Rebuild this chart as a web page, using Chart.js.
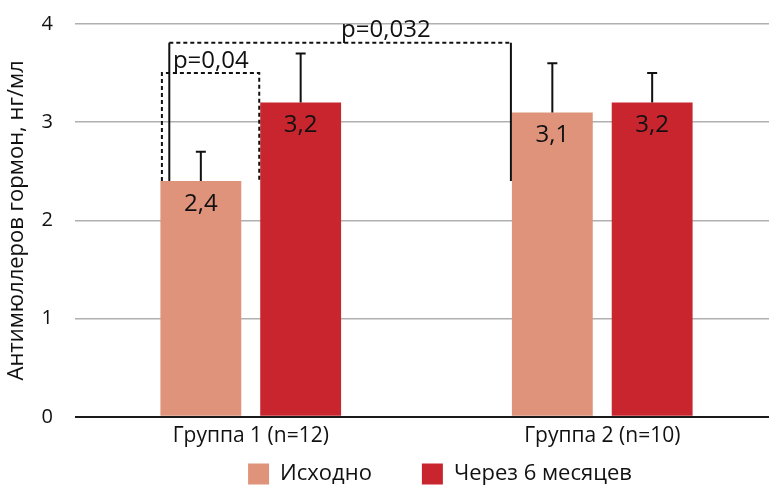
<!DOCTYPE html>
<html>
<head>
<meta charset="utf-8">
<script src="https://cdn.jsdelivr.net/npm/chart.js@4/dist/chart.umd.min.js"></script>
<style>
  html, body { margin: 0; padding: 0; background: #fff; overflow: hidden; }
  canvas { display: block; }
</style>
</head>
<body>
<canvas id="amh" width="878" height="538"></canvas>
<script>
// Groups and series
const categories = ['Группа 1 (n=12)', 'Группа 2 (n=10)'];
const seriesNames = ['Исходно', 'Через 6 месяцев'];
const baselineValues = [2.4, 3.1];
const sixMonthValues = [3.2, 3.2];
// upper error whiskers (added to the bar value)
const baselineErrors = [0.3, 0.5];
const sixMonthErrors = [0.5, 0.3];
const yTickValues = [0, 1, 2, 3, 4];
const axisTitle = 'Антимюллеров гормон, нг/мл';
// significance brackets: label, top level, bottom level, label baseline level
const pLabels = ['p=0,04', 'p=0,032'];
const bracketTops = [3.5, 3.81];
const bracketBottoms = [2.4, 2.4];
const pLabelLevels = [3.55, 3.87];

const FONT = '"Open Sans", sans-serif';
const INK = '#111';
const fmt = v => String(v).replace('.', ',');

// error bars, value labels and p-value brackets
const annotate = {
  id: 'annotate',
  afterDatasetsDraw(chart) {
    const { ctx } = chart;
    const y = chart.scales.y;
    const bar = (ds, i) => chart.getDatasetMeta(ds).data[i];
    ctx.save();

    [[0, baselineValues, baselineErrors], [1, sixMonthValues, sixMonthErrors]].forEach(([ds, vals, errs]) => {
      vals.forEach((v, i) => {
        const b = bar(ds, i);
        const y0 = y.getPixelForValue(v);
        const y1 = y.getPixelForValue(v + errs[i]);
        ctx.strokeStyle = INK;
        ctx.lineWidth = 2;
        ctx.setLineDash([]);
        ctx.beginPath();
        ctx.moveTo(b.x, y0);
        ctx.lineTo(b.x, y1);
        ctx.moveTo(b.x - 5, y1);
        ctx.lineTo(b.x + 5, y1);
        ctx.stroke();

        ctx.fillStyle = INK;
        ctx.font = '24px ' + FONT;
        ctx.textAlign = 'center';
        ctx.textBaseline = 'middle';
        ctx.fillText(fmt(v), b.x, y0 + 23);
      });
    });

    ctx.strokeStyle = INK;
    ctx.lineWidth = 2;

    // narrow bracket: both bars of group 1, dashed all round
    const a = bar(0, 0), c = bar(1, 0);
    const nl = a.x - a.width / 2 + 1.5, nr = c.x - c.width / 2 - 1;
    const nt = y.getPixelForValue(bracketTops[0]), nb = y.getPixelForValue(bracketBottoms[0]);
    ctx.setLineDash([4, 3]);
    ctx.beginPath();
    ctx.moveTo(nl, nb);
    ctx.lineTo(nl, nt);
    ctx.lineTo(nr, nt);
    ctx.lineTo(nr, nb);
    ctx.stroke();

    // wide bracket: group 1 baseline vs group 2 baseline
    const d = bar(0, 1);
    const wl = a.x - a.width * 0.39, wr = d.x - d.width / 2 - 1;
    const wt = y.getPixelForValue(bracketTops[1]), wb = y.getPixelForValue(bracketBottoms[1]);
    ctx.setLineDash([4, 3]);
    ctx.beginPath();
    ctx.moveTo(wl, wt);
    ctx.lineTo(wr, wt);
    ctx.stroke();
    ctx.setLineDash([]);
    ctx.beginPath();
    ctx.moveTo(wl, wb);
    ctx.lineTo(wl, wt);
    ctx.moveTo(wr, wt);
    ctx.lineTo(wr, wb);
    ctx.stroke();

    ctx.fillStyle = INK;
    ctx.font = '24px ' + FONT;
    ctx.textAlign = 'left';
    ctx.textBaseline = 'alphabetic';
    ctx.fillText(pLabels[0], nl + 11, y.getPixelForValue(pLabelLevels[0]));
    ctx.fillText(pLabels[1], c.x + c.width / 2, y.getPixelForValue(pLabelLevels[1]));

    ctx.restore();
  }
};

// places the legend row just below the axis labels, right of the default centre
const legendOffset = {
  id: 'legendOffset',
  afterLayout(chart) {
    const lg = chart.legend;
    if (lg) {
      lg.left += 51; lg.right += 51;
      lg.top -= 43; lg.bottom -= 43;
    }
  }
};

new Chart(document.getElementById('amh'), {
  type: 'bar',
  data: {
    labels: categories,
    datasets: [
      { label: seriesNames[0], data: baselineValues, backgroundColor: '#E0937B' },
      { label: seriesNames[1], data: sixMonthValues, backgroundColor: '#C9252F' }
    ]
  },
  options: {
    responsive: false,
    animation: false,
    devicePixelRatio: 1,
    layout: { padding: { left: 0, right: 100, top: 24, bottom: 0 } },
    datasets: { bar: { categoryPercentage: 0.568, barPercentage: 0.81 } },
    plugins: {
      legend: {
        position: 'bottom',
        labels: { boxWidth: 21, boxHeight: 21, padding: 50, color: INK, font: { family: FONT, size: 22 } }
      },
      tooltip: { enabled: false }
    },
    scales: {
      x: {
        grid: { display: false, drawTicks: false },
        border: { display: false },
        ticks: { padding: 7, color: INK, maxRotation: 0, font: { family: FONT, size: 21 } }
      },
      y: {
        min: 0,
        max: 4,
        afterBuildTicks: s => { s.ticks = yTickValues.map(v => ({ value: v })); },
        afterFit: s => { s.width = 75; },
        border: { display: false },
        grid: {
          drawTicks: true,
          tickLength: 22,
          tickColor: 'rgba(0,0,0,0)',
          color: c => (c.tick && c.tick.value === 0) ? '#1a1a1a' : '#b0b0b0',
          lineWidth: c => (c.tick && c.tick.value === 0) ? 2 : 1.5
        },
        ticks: { padding: 0, color: INK, font: { family: FONT, size: 20 } },
        title: {
          display: true,
          text: axisTitle,
          color: INK,
          font: { family: FONT, size: 22 },
          padding: { top: 4, bottom: 0 }
        }
      }
    }
  },
  plugins: [annotate, legendOffset]
});
</script>
</body>
</html>
